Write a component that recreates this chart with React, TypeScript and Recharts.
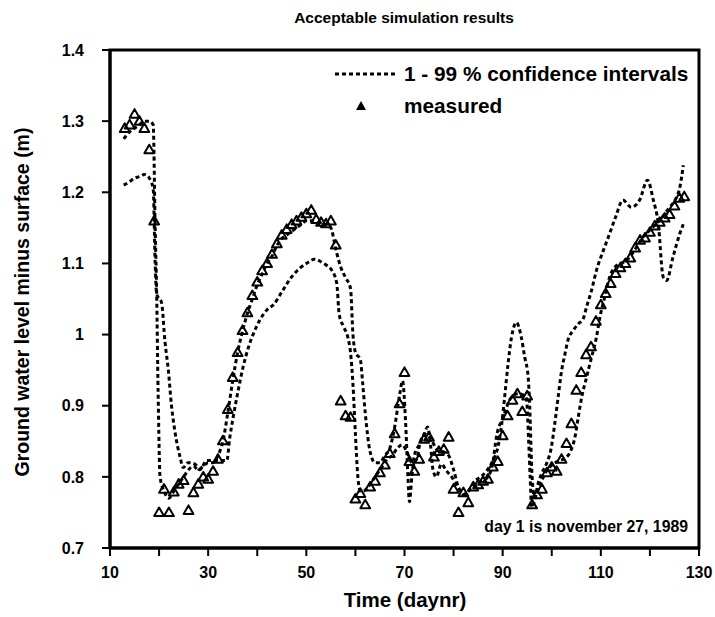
import React from 'react';
import { ComposedChart, Line, Scatter, XAxis, YAxis, ReferenceArea } from 'recharts';

const measuredDays = [
  13, 14, 15, 16, 17, 18, 19, 20, 21, 22, 23, 24, 25, 26, 27, 28, 29, 30, 31, 32, 33, 34, 35, 36, 37, 38, 39, 40,
  41, 42, 43, 44, 45, 46, 47, 48, 49, 50, 51, 52, 53, 54, 55, 56, 57, 58, 59, 60, 61, 62, 63, 64, 65, 66, 67, 68,
  69, 70, 71, 72, 73, 74, 75, 76, 77, 78, 79, 80, 81, 82, 83, 84, 85, 86, 87, 88, 89, 90, 91, 92, 93, 94, 95, 96,
  97, 98, 99, 100, 101, 102, 103, 104, 105, 106, 107, 108, 109, 110, 111, 112, 113, 114, 115, 116, 117, 118, 119,
  120, 121, 122, 123, 124, 125, 126, 127,
];
const measuredValues = [
  1.29, 1.295, 1.31, 1.3, 1.29, 1.26, 1.16, 0.75, 0.783, 0.75, 0.779, 0.79, 0.795, 0.753, 0.778, 0.79, 0.8, 0.797,
  0.808, 0.825, 0.851, 0.895, 0.94, 0.975, 1.006, 1.031, 1.055, 1.074,
  1.09, 1.1, 1.113, 1.128, 1.14, 1.148, 1.155, 1.16, 1.165, 1.17, 1.175, 1.162, 1.158, 1.156, 1.16, 1.126, 0.907,
  0.886, 0.884, 0.769, 0.777, 0.761, 0.786, 0.794, 0.806, 0.817, 0.833, 0.861,
  0.903, 0.947, 0.822, 0.808, 0.825, 0.853, 0.856, 0.828, 0.836, 0.839, 0.856, 0.783, 0.75, 0.778, 0.764, 0.786,
  0.789, 0.794, 0.797, 0.814, 0.822, 0.858, 0.886, 0.908, 0.917, 0.892, 0.914, 0.761,
  0.775, 0.783, 0.806, 0.814, 0.808, 0.825, 0.847, 0.875, 0.922, 0.947, 0.972, 0.983, 1.019, 1.042, 1.058, 1.072,
  1.086, 1.094, 1.1, 1.108, 1.122, 1.133, 1.136,
  1.144, 1.153, 1.158, 1.164, 1.169, 1.181, 1.192, 1.194,
];

const boundADays = [
  12.8, 14, 15, 16, 17, 18, 18.8, 19.2, 19.5, 19.8, 20.2, 21, 22, 23, 24, 25, 26, 27, 28, 29, 30, 31, 32, 33, 34, 35,
  36, 37, 38, 39, 40, 41, 42, 43, 44, 45, 46, 47, 48, 49, 50, 51, 52, 53, 54, 55, 56, 57, 58, 59, 59.5, 60, 61, 61.5,
  62, 63, 64, 65, 66, 67, 68, 69, 69.6, 70.2, 70.7, 71, 71.5, 72, 73, 74, 74.7, 75.3, 75.8, 76.5, 77.5, 78.6, 79.6,
  80.5, 81.5, 82.5, 83.5, 84.5, 85.5, 86.7, 88, 89, 89.8, 90.4, 91.1, 91.8, 92.8, 93.8, 94.5, 95.2, 95.5, 96, 96.5,
  97.2, 97.9, 98.9, 99.9, 100.6, 101.3, 102, 102.7, 103.3, 104.4, 105.4, 106.4, 107.1, 108.1, 109.1, 110.5, 111.8,
  113, 114.5, 116.2, 117.9, 119.5, 120.7, 121.7, 122.7, 123.4, 124.7, 126.1, 126.8,
];
const boundAValues = [
  1.275, 1.285, 1.29, 1.295, 1.3, 1.3, 1.295, 1.15, 1.06, 0.92, 0.8, 0.78, 0.77, 0.78, 0.79, 0.8, 0.81, 0.815, 0.81,
  0.815, 0.82, 0.82, 0.83, 0.85, 0.89, 0.935,
  0.975, 1.005, 1.03, 1.05, 1.07, 1.085, 1.1, 1.11, 1.125, 1.135, 1.14, 1.145, 1.15, 1.155, 1.16, 1.16, 1.158, 1.155,
  1.155, 1.15, 1.12, 1.095, 1.08, 1.065, 1.0, 0.975, 0.965, 0.93,
  0.89, 0.835, 0.82, 0.82, 0.83, 0.84, 0.87, 0.915, 0.935, 0.88, 0.8, 0.765, 0.8, 0.83, 0.845, 0.86, 0.87, 0.845,
  0.81, 0.8, 0.818, 0.808, 0.8,
  0.79, 0.78, 0.775, 0.785, 0.795, 0.8, 0.808, 0.823, 0.841, 0.874, 0.912, 0.959, 0.996, 1.017, 0.996, 0.968, 0.94,
  0.9, 0.8, 0.771,
  0.79, 0.804, 0.818, 0.841, 0.874, 0.912, 0.949, 0.973, 0.992, 1.006, 1.015, 1.022, 1.039, 1.062, 1.09, 1.118, 1.142,
  1.165, 1.189, 1.179, 1.189, 1.217, 1.189, 1.156, 1.081, 1.076, 1.109, 1.142, 1.155,
];

const boundBDays = [
  12.8, 14, 15, 16, 17, 18, 18.8, 19.2, 19.5, 20.5, 21.2, 21.9, 22.5, 23.2, 24.3, 24.9, 25.9, 27.3, 28.3, 29.7, 31.4,
  33.8, 34.4, 35.1, 36.1, 37.1, 38.2, 39.2, 40.5, 42, 43.3, 45.1, 47, 48.8, 50.5, 51.6, 53.5, 55.3, 56.2, 56.7, 57.6,
  58.5, 59, 59.5, 60, 60.5, 61, 61.6, 62.5, 63.5, 64.5, 65.5, 66.5, 67.5, 68.5, 69.5, 70.5, 71.5, 72.5, 73.1, 74.2,
  75.2, 76.8, 78, 79, 80, 81, 82, 83, 84, 85, 86, 87, 88, 88.7, 90.1, 91.8, 93.2, 94.8, 95.3, 95.6, 95.9, 96.9, 98.9,
  100.3, 101.6, 102.9, 103.9, 104.7, 105.4, 106.1, 107.1, 108.1, 109.1, 109.8, 110.8, 111.8, 112.9, 114, 115.2, 117,
  118.6, 120, 121.3, 122.5, 124, 125.2, 126.1, 126.8,
];
const boundBValues = [
  1.21, 1.215, 1.22, 1.222, 1.225, 1.22, 1.205, 1.1, 1.057, 1.045, 0.99, 0.949, 0.902, 0.865, 0.827, 0.813, 0.82,
  0.818, 0.81, 0.823, 0.823,
  0.823, 0.855, 0.884, 0.921, 0.954, 0.982, 1.001, 1.02, 1.035, 1.042, 1.061, 1.081, 1.094, 1.102, 1.106, 1.1, 1.089,
  1.072, 1.028, 1.011,
  0.995, 0.975, 0.93, 0.86, 0.8, 0.78, 0.78, 0.785, 0.795, 0.805, 0.815, 0.825, 0.83, 0.84, 0.845, 0.835, 0.82, 0.825,
  0.846, 0.86,
  0.855, 0.837, 0.835, 0.83, 0.81, 0.785, 0.775, 0.78, 0.785, 0.79, 0.795, 0.8, 0.82, 0.855, 0.884, 0.912, 0.917,
  0.912, 0.85, 0.8, 0.757, 0.776, 0.808,
  0.818, 0.823, 0.827, 0.837, 0.855, 0.884, 0.912, 0.94, 0.968, 0.996, 1.024, 1.053, 1.081, 1.095, 1.1, 1.104, 1.12,
  1.137, 1.147, 1.156, 1.165, 1.179, 1.19, 1.207, 1.238,
];

const xTicks = [10, 20, 30, 40, 50, 60, 70, 80, 90, 100, 110, 120, 130];
const xTickLabels = ['10', '', '30', '', '50', '', '70', '', '90', '', '110', '', '130'];
const yTicks = [0.7, 0.8, 0.9, 1.0, 1.1, 1.2, 1.3, 1.4];
const yTickLabels = ['0.7', '0.8', '0.9', '1', '1.1', '1.2', '1.3', '1.4'];

const titleText = 'Acceptable simulation results';
const xLabelText = 'Time (daynr)';
const yLabelText = 'Ground water level minus surface (m)';
const ciLegendText = '1 - 99 % confidence intervals';
const measuredLegendText = 'measured';
const noteText = 'day 1 is november 27, 1989';

const toPoints = (xs: number[], ys: number[]) => xs.map((x, i) => ({ x, y: ys[i] }));
const measuredData = toPoints(measuredDays, measuredValues);
const boundAData = toPoints(boundADays, boundAValues);
const boundBData = toPoints(boundBDays, boundBValues);

const FONT = '"Liberation Sans", Arial, Helvetica, sans-serif';

const Triangle = (props: any) => {
  const { cx, cy } = props;
  if (cx == null || cy == null) return null;
  const s = 4.9;
  return (
    <path
      d={`M${cx},${cy - s} L${cx + s},${cy + s * 0.75} L${cx - s},${cy + s * 0.75} Z`}
      fill="none"
      stroke="#000"
      strokeWidth={2}
      strokeLinejoin="round"
    />
  );
};

const xFmt = (v: number) => {
  const i = xTicks.indexOf(v);
  return i >= 0 ? xTickLabels[i] : '';
};
const yFmt = (v: number) => {
  const i = yTicks.findIndex((t) => Math.abs(t - v) < 1e-6);
  return i >= 0 ? yTickLabels[i] : '';
};

const textBase: React.CSSProperties = {
  position: 'absolute',
  fontFamily: FONT,
  fontWeight: 'bold',
  color: '#000',
  whiteSpace: 'nowrap',
};

export default function App() {
  return (
    <div style={{ position: 'absolute', left: 0, top: 0, width: 715, height: 617, background: '#fff', fontFamily: FONT }}>
      <ComposedChart width={715} height={617} margin={{ top: 50, right: 16, bottom: 0, left: 0 }}>
        <XAxis
          type="number"
          dataKey="x"
          domain={[10, 130]}
          ticks={xTicks}
          tickFormatter={xFmt}
          height={69}
          allowDataOverflow
          axisLine={{ stroke: '#000', strokeWidth: 3 }}
          tickLine={{ stroke: '#000', strokeWidth: 2 }}
          tickSize={8}
          tickMargin={11}
          interval={0}
          tick={{ fill: '#000', fontSize: 16, fontWeight: 'bold', fontFamily: FONT }}
        />
        <YAxis
          type="number"
          dataKey="y"
          domain={[0.7, 1.4]}
          ticks={yTicks}
          tickFormatter={yFmt}
          width={110}
          allowDataOverflow
          axisLine={{ stroke: '#000', strokeWidth: 3 }}
          tickLine={{ stroke: '#000', strokeWidth: 2 }}
          tickSize={8}
          tickMargin={18}
          interval={0}
          tick={{ fill: '#000', fontSize: 16, fontWeight: 'bold', fontFamily: FONT }}
        />
        <ReferenceArea
          x1={10}
          x2={130}
          y1={0.7}
          y2={1.4}
          fill="none"
          stroke="#000"
          strokeWidth={3}
          ifOverflow="visible"
        />
        <Line
          data={boundAData}
          dataKey="y"
          type="monotone"
          stroke="#000"
          strokeWidth={3}
          strokeDasharray="4 3"
          dot={false}
          activeDot={false}
          isAnimationActive={false}
        />
        <Line
          data={boundBData}
          dataKey="y"
          type="monotone"
          stroke="#000"
          strokeWidth={3}
          strokeDasharray="4 3"
          dot={false}
          activeDot={false}
          isAnimationActive={false}
        />
        <Scatter data={measuredData} dataKey="y" shape={<Triangle />} isAnimationActive={false} />
      </ComposedChart>

      <div style={{ ...textBase, left: 404, top: 8, width: 0, fontSize: 15.5, lineHeight: '20px' }}>
        <div style={{ position: 'absolute', left: 0, transform: 'translateX(-50%)' }}>{titleText}</div>
      </div>

      <svg style={{ position: 'absolute', left: 335, top: 70 }} width={60} height={8}>
        <line x1={0} y1={4} x2={60} y2={4} stroke="#000" strokeWidth={3} strokeDasharray="4 3" />
      </svg>
      <div style={{ ...textBase, left: 404, top: 62, fontSize: 20.8, lineHeight: '24px' }}>{ciLegendText}</div>

      <svg style={{ position: 'absolute', left: 354, top: 100 }} width={14} height={12}>
        <path d="M7,1 L12,10 L2,10 Z" fill="#000" />
      </svg>
      <div style={{ ...textBase, left: 404, top: 94, fontSize: 20.8, lineHeight: '24px' }}>{measuredLegendText}</div>

      <div style={{ ...textBase, right: 715 - 688, top: 518, fontSize: 15.8, lineHeight: '18px' }}>{noteText}</div>

      <div style={{ ...textBase, left: 405, top: 588, width: 0, fontSize: 20.5, lineHeight: '24px' }}>
        <div style={{ position: 'absolute', left: 0, transform: 'translateX(-50%)' }}>{xLabelText}</div>
      </div>

      <div
        style={{
          ...textBase,
          left: 22,
          top: 302,
          width: 0,
          height: 0,
          fontSize: 19.5,
          lineHeight: '24px',
        }}
      >
        <div style={{ position: 'absolute', left: 0, top: 0, transform: 'translate(-50%, -50%) rotate(-90deg)' }}>
          {yLabelText}
        </div>
      </div>
    </div>
  );
}
